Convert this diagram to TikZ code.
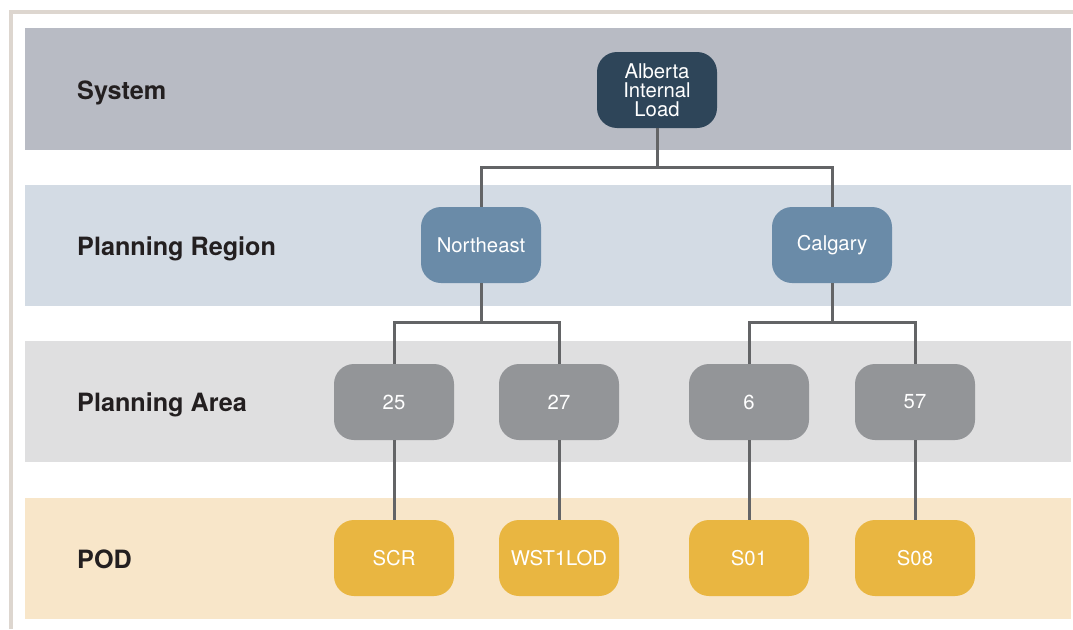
\documentclass[tikz,border=0pt]{standalone}
\usepackage{fontspec}
\setmainfont{TeX Gyre Heros}
\usetikzlibrary{calc}
\definecolor{sysband}{HTML}{B8BBC4}
\definecolor{regband}{HTML}{D3DBE4}
\definecolor{areaband}{HTML}{DFDFE0}
\definecolor{podband}{HTML}{F8E6C9}
\definecolor{ailc}{HTML}{2E4559}
\definecolor{regc}{HTML}{6A8BA8}
\definecolor{areac}{HTML}{939598}
\definecolor{podc}{HTML}{E9B641}
\definecolor{connc}{HTML}{636466}
\definecolor{borderc}{HTML}{DDD6CF}
\definecolor{labelc}{HTML}{231F20}
\tikzset{
  box/.style={rectangle, rounded corners=20pt, minimum width=120pt, minimum height=76pt, inner sep=0pt, text=white, font=\fontsize{20.3}{19}\selectfont, align=center},
  ailbox/.style={box, fill=ailc},
  regbox/.style={box, fill=regc},
  areabox/.style={box, fill=areac},
  podbox/.style={box, fill=podc},
  conn/.style={draw=connc, line width=3pt, line join=miter},
  rowlabel/.style={anchor=base west, inner sep=0pt, text=labelc, font=\fontsize{25.2}{28}\selectfont\bfseries}
}
\begin{document}
\begin{tikzpicture}[x=1pt,y=-1pt]
\useasboundingbox (0,0) rectangle (1073,629);
% border
\draw[borderc, line width=4pt] (11,629) -- (11,12) -- (1073,12);
% bands
\fill[sysband] (25,28) rectangle (1071,150);
\fill[regband] (25,185) rectangle (1071,306);
\fill[areaband] (25,341) rectangle (1071,462);
\fill[podband] (25,498) rectangle (1071,619);
% row labels
\node[rowlabel] (lsys) at (77,99) {System};
\node[rowlabel] (lreg) at (77,255) {Planning Region};
\node[rowlabel] (lare) at (77,411) {Planning Area};
\node[rowlabel] (lpod) at (77,568) {POD};
% nodes
\node[ailbox] (ail) at (657,90) {Alberta\\Internal\\Load};
\node[regbox] (ne) at (481,245) {Northeast};
\node[regbox] (cal) at (832,245) {Calgary};
\node[areabox] (a25) at (394,402) {25};
\node[areabox] (a27) at (559,402) {27};
\node[areabox] (a6) at (749,402) {6};
\node[areabox] (a57) at (915,402) {57};
\node[podbox] (scr) at (394,558) {SCR};
\node[podbox] (wst) at (559,558) {WST1LOD};
\node[podbox] (s01) at (749,558) {S01};
\node[podbox] (s08) at (915,558) {S08};
% connectors
\draw[conn] (ail.south) -- ++(0,39) coordinate (j1) -| (ne.north);
\draw[conn] (j1) -| (cal.north);
\draw[conn] (ne.south) -- ++(0,39) coordinate (j2) -| (a25.north);
\draw[conn] (j2) -| (a27.north);
\draw[conn] (cal.south) -- ++(0,39) coordinate (j3) -| (a6.north);
\draw[conn] (j3) -| (a57.north);
\draw[conn] (a25.south) -- (scr.north);
\draw[conn] (a27.south) -- (wst.north);
\draw[conn] (a6.south) -- (s01.north);
\draw[conn] (a57.south) -- (s08.north);
\end{tikzpicture}
\end{document}
